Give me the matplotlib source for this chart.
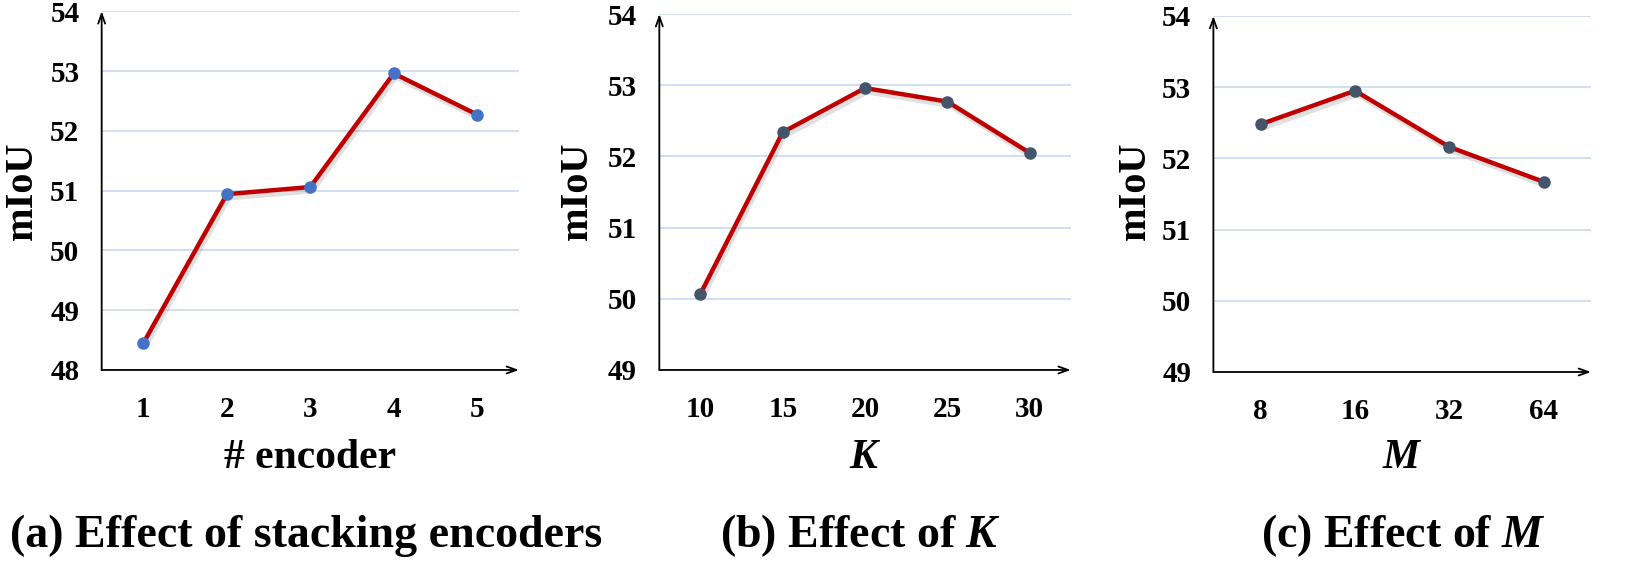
import matplotlib.pyplot as plt
import matplotlib.patheffects as pe

plt.rcParams['font.family'] = ['Liberation Serif', 'DejaVu Serif']
plt.rcParams['font.weight'] = 'bold'
plt.rcParams['mathtext.fontset'] = 'custom'
plt.rcParams['mathtext.rm'] = 'Liberation Serif:bold'
plt.rcParams['mathtext.it'] = 'Liberation Serif:italic:bold'
plt.rcParams['mathtext.bf'] = 'Liberation Serif:bold'

# data
enc_x = [1, 2, 3, 4, 5]
enc_miou = [48.45, 50.94, 51.06, 52.96, 52.27]

k_x = [10, 15, 20, 25, 30]
k_miou = [50.07, 52.34, 52.96, 52.77, 52.05]

m_labels = ['8', '16', '32', '64']
m_miou = [52.48, 52.95, 52.16, 51.67]

fig = plt.figure(figsize=(16.32, 5.61), dpi=100)

# axes boxes in figure fraction: left, bottom, width, height
ax_a = fig.add_axes([0.0623, 0.3405, 0.2557, 0.6395])
ax_b = fig.add_axes([0.4040, 0.3405, 0.2521, 0.6345])
ax_c = fig.add_axes([0.7435, 0.3369, 0.2314, 0.6346])

line_red = '#c00000'
grid_col = '#cbd8f0'
shadow = [pe.SimpleLineShadow(offset=(1.5, -3), shadow_color='#999999', alpha=0.3),
          pe.Normal()]


def style(ax, ylo, yhi):
    ax.set_ylim(ylo, yhi)
    ax.set_yticks(range(ylo, yhi + 1))
    for s in ax.spines.values():
        s.set_visible(False)
    for v in range(ylo + 1, yhi + 1):
        ax.axhline(v, color=grid_col, lw=1.2, zorder=0)
    ax.tick_params(axis='both', length=0, labelsize=21)
    ax.tick_params(axis='y', pad=16)
    ax.tick_params(axis='x', pad=19)
    arrow = dict(arrowstyle='->,head_length=0.7,head_width=0.25', lw=1.3, color='black',
                 shrinkA=0, shrinkB=0)
    ax.annotate('', xy=(1.0, 0), xytext=(0, 0), xycoords='axes fraction', arrowprops=arrow)
    ax.annotate('', xy=(0, 1.0), xytext=(0, 0), xycoords='axes fraction', arrowprops=arrow)


def draw(ax, x, y, dot):
    ax.plot(x, y, color=line_red, lw=3.2, path_effects=shadow, zorder=3)
    ax.plot(x, y, ls='none', marker='o', ms=8, mfc=dot, mec=dot, zorder=4)


# (a) stacking encoders
draw(ax_a, enc_x, enc_miou, '#4472c4')
ax_a.set_xlim(0.5, 5.5)
ax_a.set_xticks(enc_x)
style(ax_a, 48, 54)

# (b) K
draw(ax_b, k_x, k_miou, '#44546a')
ax_b.set_xlim(7.5, 32.5)
ax_b.set_xticks(k_x)
style(ax_b, 49, 54)

# (c) M
mx = list(range(len(m_labels)))
draw(ax_c, mx, m_miou, '#44546a')
ax_c.set_xlim(-0.5, 3.5)
ax_c.set_xticks(mx)
ax_c.set_xticklabels(m_labels)
style(ax_c, 49, 54)

# y labels
for xf in [0.0135, 0.3536, 0.696]:
    fig.text(xf, 0.66, 'mIoU', rotation=90, ha='center', va='center', fontsize=29)

# x labels
fig.text(0.1901, 0.1658, '# encoder', ha='center', va='baseline', fontsize=30)
fig.text(0.5300, 0.1658, r'$\mathit{K}$', ha='center', va='baseline', fontsize=30)
fig.text(0.8592, 0.1658, r'$\mathit{M}$', ha='center', va='baseline', fontsize=30)

# panel captions
fig.text(0.1875, 0.025, '(a) Effect of stacking encoders', ha='center', va='baseline', fontsize=33)
fig.text(0.5270, 0.025, r'(b) Effect of $\mathit{K}$', ha='center', va='baseline', fontsize=33)
fig.text(0.8600, 0.025, r'(c) Effect of $\mathit{M}$', ha='center', va='baseline', fontsize=33)

fig.savefig('out.png', dpi=100)
